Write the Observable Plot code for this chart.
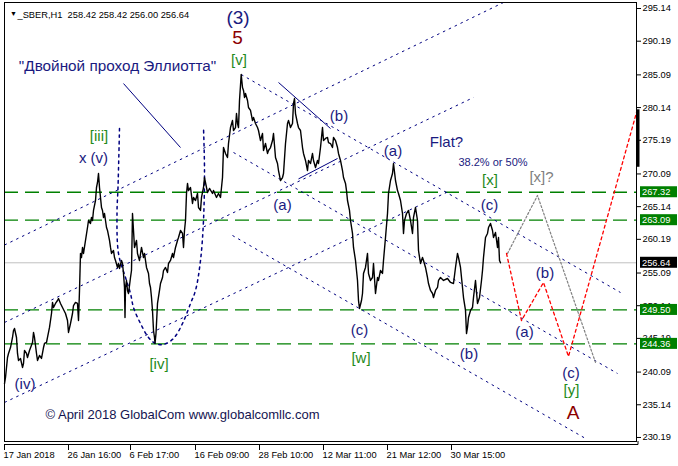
<!DOCTYPE html>
<html><head><meta charset="utf-8">
<script src="https://cdn.jsdelivr.net/npm/d3@7"></script>
<script src="https://cdn.jsdelivr.net/npm/@observablehq/plot@0.6"></script>
<style>html,body{margin:0;padding:0;background:#fff} svg{display:block}</style>
</head><body><div id="chart"></div>
<script>
// ---------- DATA ----------
const headerText = "_SBER,H1  258.42 258.42 256.00 256.64";
const yTicks = [295.14,290.19,285.09,280.14,275.19,270.09,265.14,260.19,255.09,250.14,245.19,240.09,235.14,230.19];
const xTickBars = [0,64,126,191,255,319,383,447];
const xTickLabels = ["17 Jan 2018","26 Jan 16:00","6 Feb 17:00","16 Feb 09:00","28 Feb 10:00","12 Mar 11:00","21 Mar 12:00","30 Mar 15:00"];
const levelPrices = [267.32, 263.09, 249.50, 244.36];
const lastPrice = 256.64;
const axisMarker = [271.1, 279.8];

// [bar index, close]
const priceSeries = [[0,238.36],[1,239.27],[3,242.30],[4,242.91],[6,243.81],[8,245.33],[9,246.39],[10,246.69],[12,245.33],[13,242.91],[14,241.85],[16,242.15],[18,240.79],[19,241.39],[20,243.36],[22,242.91],[23,242.30],[25,243.36],[28,244.57],[29,246.09],[30,245.33],[32,242.91],[33,241.85],[35,242.60],[37,242.15],[39,243.81],[40,244.42],[42,244.57],[43,245.33],[45,246.85],[47,248.96],[48,250.63],[49,249.87],[51,250.48],[53,250.93],[54,251.23],[56,250.48],[58,249.87],[61,248.96],[63,247.90],[64,246.09],[66,247.45],[68,248.96],[69,250.17],[71,250.63],[73,250.48],[74,247.90],[75,252.45],[76,258.05],[77,257.44],[78,258.96],[79,258.05],[83,261.98],[84,263.04],[86,262.59],[87,263.50],[88,263.04],[89,264.56],[91,266.07],[92,268.04],[93,268.80],[94,270.16],[95,268.04],[96,266.53],[97,265.01],[98,264.56],[99,263.50],[100,264.10],[101,263.04],[102,261.98],[103,261.53],[105,260.02],[106,258.96],[107,258.05],[109,258.50],[110,257.44],[111,256.99],[113,255.93],[114,256.53],[115,255.78],[117,256.99],[118,256.53],[119,255.02],[120,252.90],[120.5,248.36],[121,252.90],[122,253.96],[123,252.45],[124,251.99],[126,254.41],[127,255.47],[128,264.10],[129,261.53],[130,258.96],[132,260.02],[133,258.05],[135,256.99],[137,258.96],[139,257.44],[140,258.05],[142,255.93],[144,255.02],[145,253.50],[146,252.90],[147,251.38],[148,249.42],[149,246.39],[150,245.33],[150.5,244.42],[151.5,245.93],[152,247.45],[153,250.48],[155,252.45],[156,253.50],[158,254.41],[159,255.47],[161,255.93],[163,255.17],[164,256.53],[166,256.99],[168,258.05],[169,257.44],[171,258.96],[173,260.02],[174,260.47],[176,261.53],[178,261.08],[179,258.96],[180,261.53],[181,263.04],[182,267.13],[183,268.65],[184,267.58],[186,268.04],[188,265.62],[189,266.53],[191,266.07],[193,267.13],[194,265.01],[196,264.56],[197,266.53],[199,268.04],[200,269.55],[202,268.04],[203,267.28],[205,267.89],[208,267.13],[209,267.58],[212,266.53],[214,267.13],[216,266.53],[218,269.55],[219,274.09],[221,273.19],[223,272.58],[224,274.70],[226,277.12],[228,278.18],[229,276.67],[231,277.12],[232,279.24],[233,277.73],[234,277.12],[235,281.21],[236.7,285.15],[238,283.18],[239,282.73],[240,281.67],[241,282.27],[243,281.21],[244,280.15],[246,279.70],[248,278.18],[249,278.64],[251,277.73],[253,277.12],[254,276.67],[256,275.15],[258,276.21],[259,273.64],[261,274.70],[263,273.19],[264,273.64],[266,274.09],[268,275.15],[269,276.21],[271,272.58],[273,271.67],[274,270.61],[276,269.10],[278,269.55],[279,270.16],[281,274.70],[283,277.73],[284,278.18],[286,277.12],[288,277.73],[289,280.76],[290,281.51],[291,279.24],[293,277.73],[294,277.12],[296,276.67],[298,274.09],[299,273.19],[301,272.13],[303,270.61],[304,272.13],[306,271.67],[308,273.19],[309,272.13],[311,271.07],[313,272.13],[314,271.67],[316,274.09],[318,277.12],[319,275.15],[321,275.46],[323,275.61],[324,274.85],[326,274.70],[328,274.09],[329,275.61],[331,275.15],[333,274.09],[334,273.19],[336,272.13],[338,270.61],[339,269.55],[341,268.65],[342,267.58],[343,266.07],[345,264.56],[346,263.04],[348,261.08],[349,258.96],[351,256.99],[353,253.96],[354,250.93],[355,249.72],[357,250.93],[358,251.99],[359,255.02],[361,255.93],[363,258.05],[364,255.02],[366,253.96],[368,254.41],[369,256.53],[371,251.99],[373,254.41],[374,253.96],[376,255.47],[378,255.02],[379,256.99],[381,260.47],[383,264.10],[384,267.13],[386,269.10],[388,270.16],[389,271.67],[391,269.10],[393,267.58],[394,267.13],[396,266.07],[398,264.10],[399,261.08],[400,263.04],[402,264.10],[404,264.56],[406,263.04],[408,261.08],[409,263.50],[411,265.01],[413,263.04],[414,258.50],[416,256.53],[418,257.44],[419,256.99],[421,255.93],[423,254.41],[424,253.50],[426,252.45],[428,251.99],[429,251.38],[431,252.45],[433,252.90],[434,253.96],[436,254.41],[439,253.96],[443,254.26],[446,253.66],[449,253.50],[451,255.93],[453,258.05],[454,257.44],[456,255.93],[458,252.90],[459,251.38],[461,249.42],[462,245.93],[463,246.85],[464,248.36],[466,249.42],[468,249.87],[469,251.38],[471,253.96],[473,250.48],[474,250.93],[475,251.38],[477,253.96],[478,255.47],[479,257.44],[481,260.47],[483,261.08],[484,261.98],[486,262.59],[488,261.53],[489,260.47],[491,261.23],[493,258.96],[494,260.47],[495,256.99],[496,256.64]];

// forecast paths [bar, price]
const redPath = [[502,258.05],[517,247.90],[539,253.66],[564,242.45],[632,279.39]];
const grayPath = [[503,258.05],[533,266.83],[591,241.54]];

// channel / trend lines: [bar1, price1, bar2, price2]
const dottedLines = [
  [0,259.33,499,296.05],
  [0,247.60,469,281.67],
  [0,235.49,444,267.43],
  [236.7,285.15,616,252.14],
  [229,273.34,613,239.88],
  [228,260.77,581,230.04]
];
const solidLines = [
  [119,283.78,176,274.09],
  [274,283.94,326,276.97],
  [294,269.34,333,272.43]
];
const arcPath = [[115,276.97],[113.5,268.04],[112.5,264.10],[114,258.05],[121,254.41],[126,251.99],[129,249.87],[136,247.45],[144,245.33],[151,244.42],[159,244.27],[169,245.18],[178,247.45],[186,250.48],[191,252.45],[196,256.99],[199,263.04],[200,270.61],[199,277.12]];

// labels: [text, bar, price]
const navyWaveLabels = [["(b)",334.5,278.86],["(a)",278,265.39],["(a)",388.5,273.57],["x (v)",89,272.43],["(c)",485,265.39],["(b)",540.5,255.09],["(a)",520,246.16],["(c)",355,246.46],["(iv)",20.5,238.29],["(b)",464.5,242.76],["(c)",566.5,239.96]];
const greenWaveLabels = [["[v]",234.5,287.34],["[iii]",94.5,275.76],["[x]",485.5,269.10],["[w]",356.5,242.22],["[iv]",154.5,241.32],["[y]",567,237.3]];
const grayWaveLabels = [["[x]?",537,269.55]];
const navyBigLabels = [["(3)",233.5,293.78]];
const redBigLabels = [["5",233,290.75],["A",568.5,233.97]];
const titleNote = [["\"Двойной проход Эллиотта\"",113,286.36]];
const flatNote = [["Flat?",442,274.85]];
const fibNote = [["38.2% or 50%",488.5,271.9]];
const copyright = [["© April 2018 GlobalCom www.globalcomllc.com",41,233.59]];

// ---------- CHART ----------
const NAVY = "#1a1a80", GREEN = "#1f8a1a", DRED = "#8b0000";
const lbl = (data, opts) => Plot.text(data, {x: d => d[1], y: d => d[2], text: d => d[0], ...opts});
const seg = d => ({x1: d[0], y1: d[1], x2: d[2], y2: d[3]});

const chart = Plot.plot({
  width: 678, height: 466,
  marginLeft: 4, marginRight: 42, marginTop: 2, marginBottom: 25,
  x: {domain: [0, 632], axis: null},
  y: {domain: [229.58, 296.05]},
  style: {fontFamily: "'Liberation Sans', Arial, sans-serif", background: "#fff", color: "#000"},
  marks: [
    Plot.ruleY([lastPrice], {stroke: "#c0c0c0"}),
    Plot.ruleY(levelPrices, {stroke: "#008000", strokeWidth: 1.3, strokeDasharray: "14,7"}),
    Plot.link(dottedLines.map(seg), {x1: "x1", y1: "y1", x2: "x2", y2: "y2", stroke: "#000080", strokeDasharray: "2.5,4", clip: true}),
    Plot.link(solidLines.map(seg), {x1: "x1", y1: "y1", x2: "x2", y2: "y2", stroke: "#000080", strokeWidth: 1}),
    Plot.line(arcPath, {x: d => d[0], y: d => d[1], curve: "catmull-rom", stroke: "#000080", strokeDasharray: "2.5,4"}),
    Plot.line(priceSeries, {x: d => d[0], y: d => d[1], stroke: "#000", strokeWidth: 1.4}),
    Plot.line(grayPath, {x: d => d[0], y: d => d[1], stroke: "#808080", strokeDasharray: "2,2", strokeWidth: 1.2}),
    Plot.line(redPath, {x: d => d[0], y: d => d[1], stroke: "#ff0000", strokeDasharray: "3,3", strokeWidth: 1.3, clip: true}),
    lbl(navyWaveLabels, {fill: NAVY, fontSize: 15}),
    lbl(greenWaveLabels, {fill: GREEN, fontSize: 15}),
    lbl(grayWaveLabels, {fill: "#808080", fontSize: 15}),
    lbl(navyBigLabels, {fill: NAVY, fontSize: 19}),
    lbl(redBigLabels, {fill: DRED, fontSize: 19}),
    lbl(titleNote, {fill: NAVY, fontSize: 15.3}),
    lbl(flatNote, {fill: NAVY, fontSize: 15}),
    lbl(fibNote, {fill: NAVY, fontSize: 11}),
    lbl(copyright, {fill: "#141450", fontSize: 13, textAnchor: "start"}),
    Plot.text([headerText], {frameAnchor: "top-left", dx: 13, dy: 9, textAnchor: "start", fontSize: 9.3, fill: "#000"}),
    Plot.text(["▼"], {frameAnchor: "top-left", dx: 5.5, dy: 9, fontSize: 7, fill: "#000"}),
    Plot.axisY({anchor: "right", ticks: yTicks, tickFormat: d => d.toFixed(2), tickSize: 4, tickPadding: 2, fontSize: 9.3, label: null}),
    Plot.ruleX([632], {y1: axisMarker[0], y2: axisMarker[1], stroke: "#000", strokeWidth: 3, dx: 1.5}),
    Plot.frame({stroke: "#000"})
  ]
});

// decorations drawn through the chart's own scales
const sx = chart.scale("x"), sy = chart.scale("y");
const svg = d3.select(chart);
const left = sx.apply(0), right = sx.apply(632), bottom = sy.apply(229.58);
const g = svg.append("g")
  .attr("font-family", "'Liberation Sans', Arial, sans-serif")
  .attr("text-anchor", "start");
g.append("line").attr("x1", left).attr("x2", right + 2).attr("y1", bottom + 3.5).attr("y2", bottom + 3.5).attr("stroke", "#000");
g.append("line").attr("x1", right + 2).attr("x2", right + 2).attr("y1", bottom).attr("y2", bottom + 3.5).attr("stroke", "#000");
xTickBars.forEach((b, i) => {
  const px = Math.round(sx.apply(b)) + 0.5;
  g.append("line").attr("x1", px).attr("x2", px).attr("y1", bottom + 4).attr("y2", bottom + 9).attr("stroke", "#000");
  g.append("text").attr("x", px - 1).attr("y", bottom + 17).attr("font-size", 9.3).attr("fill", "#000").attr("text-anchor", "start").text(xTickLabels[i]);
});
const boxes = levelPrices.map(p => ({p, fill: "#008000"})).concat([{p: lastPrice, fill: "#000"}]);
boxes.forEach(d => {
  const py = sy.apply(d.p);
  g.append("rect").attr("x", right + 4).attr("y", py - 5.5).attr("width", 37).attr("height", 11).attr("fill", d.fill);
  g.append("text").attr("x", right + 6).attr("y", py + 3.3).attr("font-size", 9.3).attr("fill", "#fff").attr("text-anchor", "start").text(d.p.toFixed(2));
});
document.getElementById("chart").appendChild(chart);
</script>
</body></html>
